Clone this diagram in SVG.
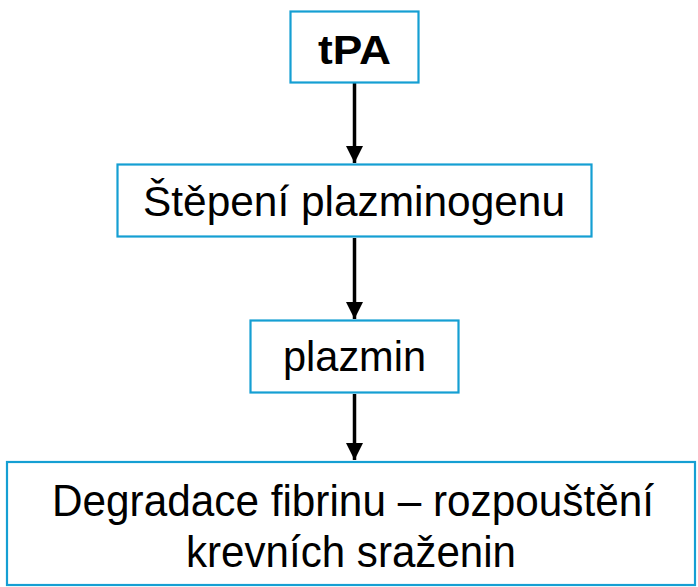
<svg xmlns="http://www.w3.org/2000/svg" width="698" height="587" viewBox="0 0 698 587">
<style>
.box{fill:#ffffff;stroke:#159fd3;stroke-width:2.2}
.t{font-family:"Liberation Sans",Arial,sans-serif;fill:#000;text-anchor:middle}
.conn{stroke:#000;stroke-width:3.5;fill:none}
</style>
<defs>
<marker id="ah" markerUnits="userSpaceOnUse" markerWidth="17" markerHeight="17" viewBox="0 0 17 17" refX="17" refY="8.5" orient="auto">
<path d="M0,0 L17,8.5 L0,17 Z" fill="#000"/>
</marker>
</defs>
<rect width="698" height="587" fill="#fff"/>
<g id="connectors">
<line class="conn" x1="354.5" y1="83" x2="354.5" y2="163" marker-end="url(#ah)"/>
<line class="conn" x1="354.5" y1="238" x2="354.5" y2="319" marker-end="url(#ah)"/>
<line class="conn" x1="354.5" y1="394" x2="354.5" y2="460" marker-end="url(#ah)"/>
</g>
<g id="n1">
<rect class="box" x="290.5" y="11.5" width="128" height="71"/>
<text class="t" x="354.5" y="64" font-size="40" font-weight="bold" textLength="73" lengthAdjust="spacingAndGlyphs">tPA</text>
</g>
<g id="n2">
<rect class="box" x="117.5" y="164.5" width="474" height="72"/>
<text class="t" x="354" y="216" font-size="42" textLength="422" lengthAdjust="spacingAndGlyphs">Štěpení plazminogenu</text>
</g>
<g id="n3">
<rect class="box" x="250.5" y="320.5" width="208" height="72"/>
<text class="t" x="354.5" y="371" font-size="42" textLength="143" lengthAdjust="spacingAndGlyphs">plazmin</text>
</g>
<g id="n4">
<rect class="box" x="7" y="462" width="688" height="123"/>
<text class="t" x="353" y="516" font-size="44" textLength="602" lengthAdjust="spacingAndGlyphs">Degradace fibrinu – rozpouštění</text>
<text class="t" x="351" y="567" font-size="44" textLength="330" lengthAdjust="spacingAndGlyphs">krevních sraženin</text>
</g>
</svg>
